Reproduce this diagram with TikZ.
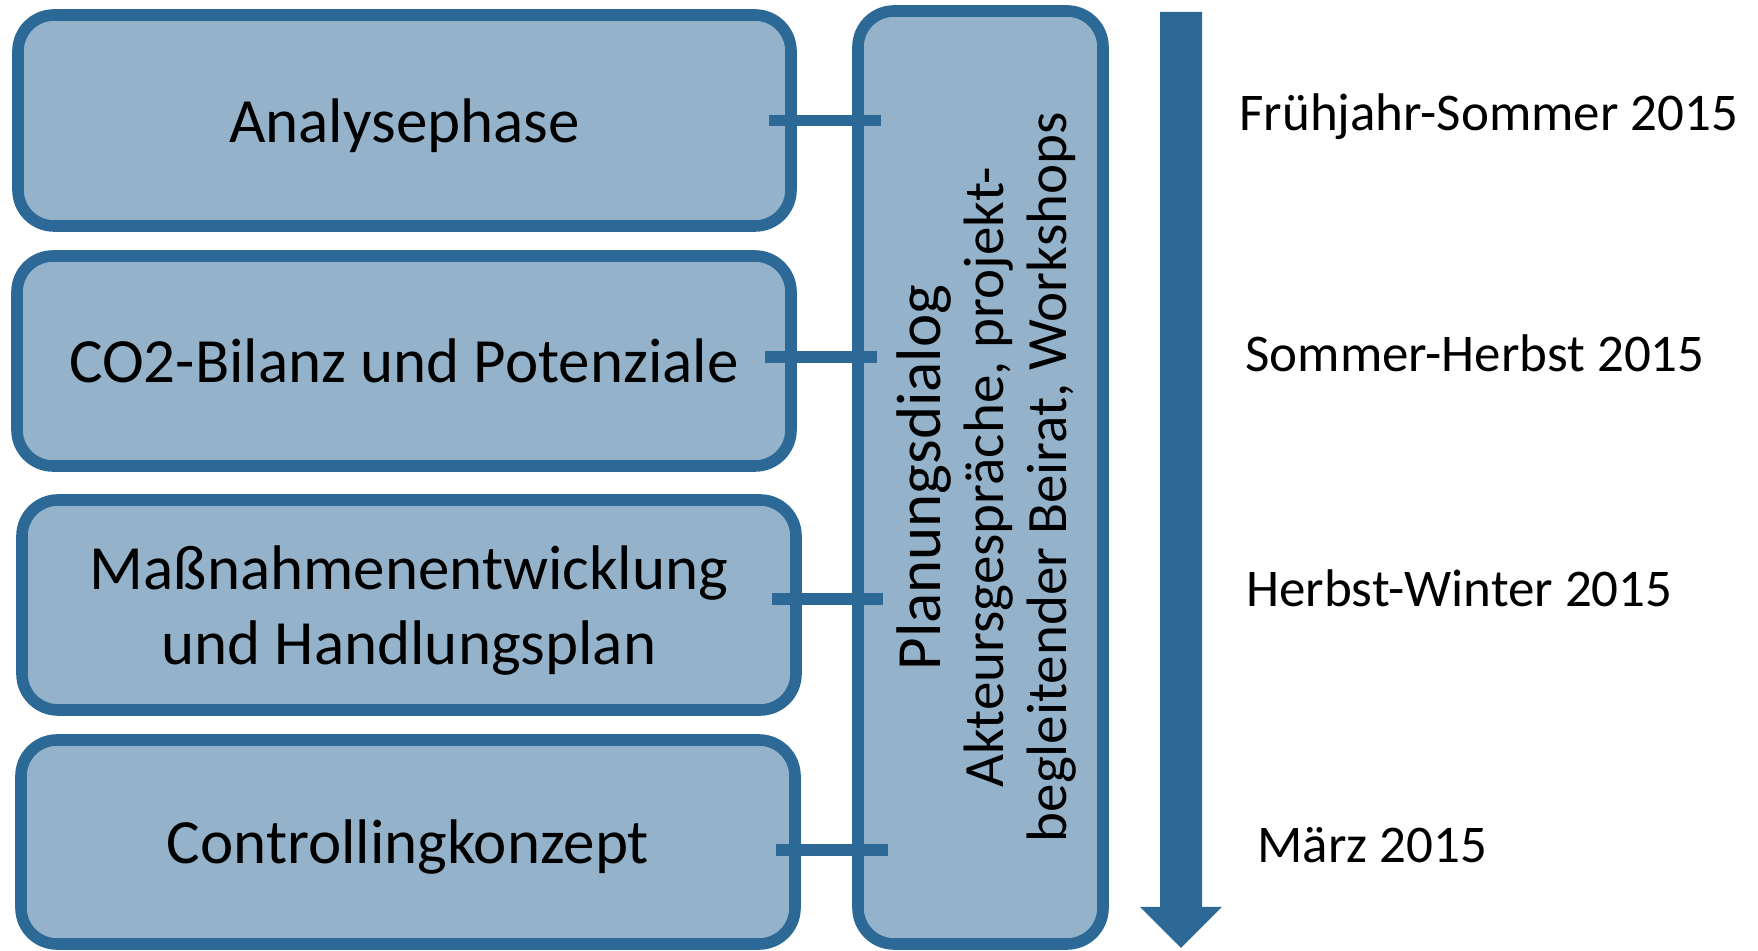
\documentclass[tikz,border=0pt]{standalone}
\usepackage{fontspec}
\setmainfont{Carlito}
\usetikzlibrary{calc}

\definecolor{phaseline}{RGB}{45,105,150}
\definecolor{phasefill}{RGB}{148,179,202}

\begin{document}
\begin{tikzpicture}[
        x=1pt, y=1pt,
        phase/.style={draw=phaseline, line width=5.8pt, fill=phasefill, rounded corners=18pt,
                      minimum width=387pt, minimum height=105pt, align=center, inner sep=0pt,
                      text depth=0pt, font=\fontsize{31.5}{37.5}\selectfont},
        dialog/.style={phase, minimum width=122.5pt, minimum height=466.5pt},
        link/.style={draw=phaseline, line width=5.6pt},
        date/.style={anchor=base west, inner sep=0pt, font=\fontsize{26.5}{30}\selectfont}
    ]
    \useasboundingbox (0,0) rectangle (879,475.5);

% --- Phases ---
        \node[phase, minimum width=386.5pt, minimum height=105.5pt] (analyse) at (202.25,415.25) {Analysephase};
        \node[phase] (bilanz) at (202,295) {CO2-Bilanz und Potenziale};
        \node[phase] (massnahmen) at (204.5,173) {Maßnahmenentwicklung\\und Handlungsplan};
        \node[phase, minimum height=102pt] (controlling) at (204,54.5) {Controllingkonzept};

% --- Planungsdialog (tall box) ---
        \node[dialog] (dialog) at (490.25,236.75) {};
        \node[rotate=90, align=center, inner sep=0pt, font=\fontsize{28.5}{31.5}\selectfont] (dialogtext) at ([xshift=3pt]dialog.center)
            {\fontsize{31.5}{31.5}\selectfont Planungsdialog\\
             \fontsize{28.5}{31.5}\selectfont Akteursgespräche, projekt-\\
             begleitender Beirat, Workshops};

% --- Links to the dialog ---
        \foreach \ph/\dy/\din/\dout in {analyse/0/-14/14.5, bilanz/2/-16/12.5, massnahmen/3/-15/15.5, controlling/-4/-12.5/18}
            \draw[link] ($(\ph.east)+(\din,\dy)$) -- ($(dialog.west |- \ph.east)+(\dout,\dy)$);

% --- Time arrow ---
        \fill[phaseline] (580,469.5) -- (601,469.5) -- (601,22) -- (611,22) -- (590.5,1.5) -- (570,22) -- (580,22) -- cycle;

% --- Dates ---
        \node[date] (d1) at (619.5,410) {Frühjahr-Sommer 2015};
        \node[date] (d2) at (622.5,289.5) {Sommer-Herbst 2015};
        \node[date] (d3) at (623,172) {Herbst-Winter 2015};
        \node[date] (d4) at (628.5,44) {März 2015};

    \end{tikzpicture}
\end{document}
